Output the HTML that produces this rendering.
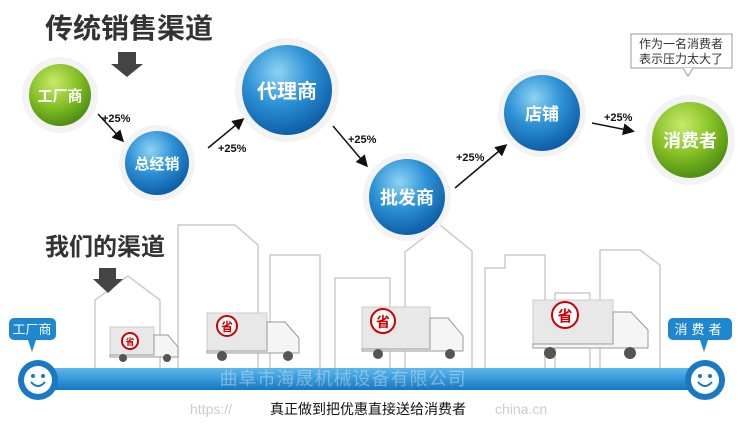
<!DOCTYPE html><html><head><meta charset="utf-8"><style>body{margin:0;background:#fff}svg{display:block}text{font-family:"Liberation Sans","Noto Sans CJK SC",sans-serif}</style></head><body>
<svg width="750" height="434" viewBox="0 0 750 434">
<defs>
<radialGradient id="b" cx="40%" cy="30%" r="70%"><stop offset="0" stop-color="#8fd3f5"/><stop offset=".5" stop-color="#2f93d6"/><stop offset="1" stop-color="#0d5fa8"/></radialGradient>
<radialGradient id="g" cx="40%" cy="30%" r="70%"><stop offset="0" stop-color="#c8ea6a"/><stop offset=".55" stop-color="#86c126"/><stop offset="1" stop-color="#4f8f12"/></radialGradient>
<linearGradient id="bar" x1="0" y1="0" x2="0" y2="1"><stop offset="0" stop-color="#5bb8ec"/><stop offset="1" stop-color="#1576c2"/></linearGradient>
<marker id="ar" markerWidth="8" markerHeight="8" refX="6" refY="4" orient="auto"><path d="M0,0L8,4L0,8z" fill="#111"/></marker>
</defs>
<text x="45" y="38" font-size="28" font-weight="bold" fill="#333">传统销售渠道</text>
<path d="M118,52h18v12h7l-16,13l-16,-13h7z" fill="#444"/>
<g fill="none" stroke="#ccc" stroke-width="1.5">
<path d="M95,372V300l33,-24l32,24v72"/>
<path d="M178,372V225h57l23,20v127"/>
<path d="M270,372V255h50v117"/>
<path d="M335,372V278h55v94"/>
<path d="M405,372V252l35,-27l32,26v121"/>
<path d="M485,372V268h20v-13h40v117"/>
<path d="M555,372V293h35v79"/>
<path d="M600,372V250h40l20,15v107"/>
</g>
<g font-weight="bold" fill="#fff" text-anchor="middle">
<circle cx="60" cy="95" r="38" fill="#f3f3f3"/><circle cx="60" cy="95" r="31" fill="url(#g)"/><text x="60" y="101" font-size="15">工厂商</text>
<circle cx="157" cy="163" r="38" fill="#f3f3f3"/><circle cx="157" cy="163" r="32" fill="url(#b)"/><text x="157" y="169" font-size="15">总经销</text>
<circle cx="287" cy="90" r="52" fill="#f3f3f3"/><circle cx="287" cy="90" r="45" fill="url(#b)"/><text x="287" y="98" font-size="20">代理商</text>
<circle cx="407" cy="197" r="44" fill="#f3f3f3"/><circle cx="407" cy="197" r="38" fill="url(#b)"/><text x="407" y="204" font-size="18">批发商</text>
<circle cx="542" cy="113" r="44" fill="#f3f3f3"/><circle cx="542" cy="113" r="38" fill="url(#b)"/><text x="542" y="120" font-size="17">店铺</text>
<circle cx="690" cy="140" r="45" fill="#f3f3f3"/><circle cx="690" cy="140" r="38" fill="url(#g)"/><text x="690" y="147" font-size="18">消费者</text>
</g>
<g stroke="#111" stroke-width="1.5" marker-end="url(#ar)">
<line x1="98" y1="114" x2="122" y2="140"/><line x1="208" y1="148" x2="242" y2="120"/>
<line x1="333" y1="126" x2="366" y2="165"/><line x1="455" y1="188" x2="505" y2="146"/>
<line x1="592" y1="123" x2="632" y2="131"/>
</g>
<g font-size="11" font-weight="bold" fill="#111">
<text x="102" y="122">+25%</text><text x="218" y="152">+25%</text><text x="348" y="143">+25%</text><text x="456" y="161">+25%</text><text x="604" y="121">+25%</text></g>
<rect x="631" y="34" width="101" height="34" fill="#fff" stroke="#999"/>
<path d="M683,68l5,8l5,-8" fill="#fff" stroke="#999"/>
<text x="681" y="48" font-size="12" fill="#333" text-anchor="middle">作为一名消费者</text>
<text x="681" y="63" font-size="12" fill="#333" text-anchor="middle">表示压力太大了</text>
<text x="45" y="255" font-size="24" font-weight="bold" fill="#333">我们的渠道</text>
<path d="M99,268h17v11h7l-15,14l-15,-14h6z" fill="#444"/>
<g>
<rect x="110" y="327" width="44" height="28" fill="#e8e8e8" stroke="#ccc"/><path d="M154,335h14l10,12v10h-68v-2h44z" fill="#f5f5f5" stroke="#999"/><circle cx="130" cy="341" r="8" fill="#fff" stroke="#c00" stroke-width="2"/><text x="130" y="345" font-size="9" fill="#c00" text-anchor="middle" font-weight="bold">省</text><circle cx="123" cy="358" r="4" fill="#555"/><circle cx="167" cy="358" r="4" fill="#555"/>
<rect x="207" y="313" width="60" height="38" fill="#e8e8e8" stroke="#ccc"/><path d="M267,322h18l14,16v15h-92v-2h60z" fill="#f5f5f5" stroke="#999"/><circle cx="227" cy="326" r="10" fill="#fff" stroke="#c00" stroke-width="2"/><text x="227" y="331" font-size="12" fill="#c00" text-anchor="middle" font-weight="bold">省</text><circle cx="222" cy="356" r="5" fill="#555"/><circle cx="288" cy="356" r="5" fill="#555"/>
<rect x="362" y="307" width="68" height="42" fill="#e8e8e8" stroke="#ccc"/><path d="M430,318h18l15,18v15h-101v-2h68z" fill="#f5f5f5" stroke="#999"/><circle cx="383" cy="321" r="12" fill="#fff" stroke="#c00" stroke-width="2"/><text x="383" y="327" font-size="14" fill="#c00" text-anchor="middle" font-weight="bold">省</text><circle cx="378" cy="354" r="5" fill="#555"/><circle cx="450" cy="354" r="5" fill="#555"/>
<rect x="533" y="300" width="80" height="44" fill="#e8e8e8" stroke="#ccc"/><path d="M613,312h18l17,18v18h-115v-4h80z" fill="#f5f5f5" stroke="#999"/><circle cx="565" cy="315" r="13" fill="#fff" stroke="#c00" stroke-width="2"/><text x="565" y="321" font-size="15" fill="#c00" text-anchor="middle" font-weight="bold">省</text><circle cx="550" cy="353" r="6" fill="#555"/><circle cx="630" cy="353" r="6" fill="#555"/>
</g>
<rect x="30" y="368" width="680" height="22" rx="4" fill="url(#bar)"/>
<g><circle cx="38" cy="380" r="20" fill="#1a78c4"/><circle cx="38" cy="380" r="14" fill="#fff"/><circle cx="33" cy="376" r="2" fill="#1a78c4"/><circle cx="43" cy="376" r="2" fill="#1a78c4"/><path d="M31,382q7,8 14,0" stroke="#1a78c4" stroke-width="2" fill="none"/></g>
<g><circle cx="705" cy="380" r="20" fill="#1a78c4"/><circle cx="705" cy="380" r="14" fill="#fff"/><circle cx="700" cy="376" r="2" fill="#1a78c4"/><circle cx="710" cy="376" r="2" fill="#1a78c4"/><path d="M698,382q7,8 14,0" stroke="#1a78c4" stroke-width="2" fill="none"/></g>
<rect x="9" y="318" width="47" height="22" rx="5" fill="#1f86d0"/><path d="M28,340l4,12l4,-12z" fill="#1f86d0"/><text x="32" y="334" font-size="13" fill="#fff" text-anchor="middle">工厂商</text>
<rect x="668" y="318" width="64" height="22" rx="5" fill="#1f86d0"/><path d="M700,340l4,12l4,-12z" fill="#1f86d0"/><text x="700" y="334" font-size="13" fill="#fff" text-anchor="middle" letter-spacing="4">消费者</text>
<text x="343" y="385" font-size="18" fill="#fff" fill-opacity=".35" text-anchor="middle" letter-spacing="1">曲阜市海晟机械设备有限公司</text>
<text x="190" y="414" font-size="14" fill="#ccc" font-family="Liberation Mono">https://</text><text x="495" y="414" font-size="14" fill="#ccc" font-family="Liberation Mono">china.cn</text>
<text x="368" y="414" font-size="14" fill="#111" text-anchor="middle">真正做到把优惠直接送给消费者</text>
</svg></body></html>
